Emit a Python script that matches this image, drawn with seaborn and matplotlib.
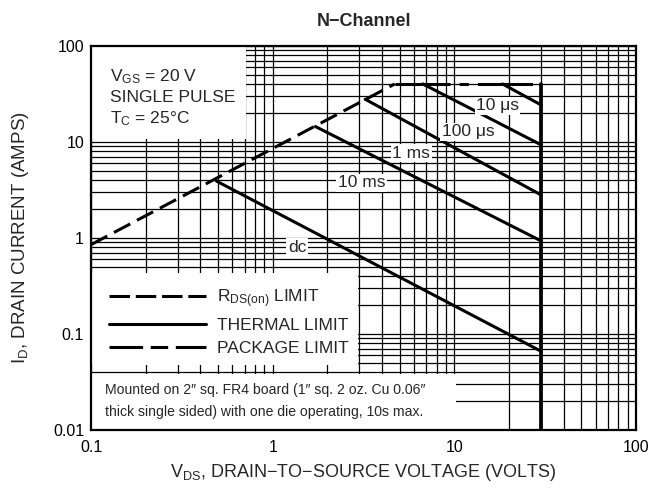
import numpy as np
import pandas as pd
import matplotlib.pyplot as plt
import seaborn as sns
from matplotlib.lines import Line2D
from matplotlib.patches import Rectangle
from matplotlib.ticker import FixedLocator, LogLocator, NullFormatter

# --- data (volts, amps) ---
rds_v = [0.1, 4.7]
rds_i = [0.85, 40.0]
pkg_v = [4.7, 30.0]
pkg_i = [40.0, 40.0]
vmax_v = [30.0, 30.0]
vmax_i = [40.0, 0.01]

seg_names = ["dc", "10 ms", "1 ms", "100 µs", "10 µs"]
seg_v0 = [0.49, 1.72, 3.23, 6.7, 18.4]
seg_i0 = [3.9, 14.4, 27.7, 40.0, 40.0]
seg_v1 = [30.0, 30.0, 30.0, 30.0, 30.0]
seg_i1 = [0.066, 0.93, 2.8, 9.3, 24.2]

label_text = ["10 \u03bcs", "100 \u03bcs", "1 ms", "10 ms", "dc"]
label_v = [17.3, 11.9, 5.8, 3.08, 1.36]
label_i = [23.6, 12.7, 7.6, 3.75, 0.80]

x_ticks = [0.1, 1, 10, 100]
x_ticklabels = ["0.1", "1", "10", "100"]
y_ticks = [0.01, 0.1, 1, 10, 100]
y_ticklabels = ["0.01", "0.1", "1", "10", "100"]

sns.set_theme(style="white")
plt.rcParams["font.family"] = ["Liberation Sans", "DejaVu Sans"]
plt.rcParams["mathtext.default"] = "regular"

fig = plt.figure(figsize=(6.53, 4.93), dpi=100)
ax = fig.add_axes([0.1394, 0.1278, 0.8346, 0.7795])
ax.set_xscale("log")
ax.set_yscale("log")
ax.set_xlim(0.1, 100)
ax.set_ylim(0.01, 100)

# grid, major and minor alike
ax.set_axisbelow(True)
ax.xaxis.set_minor_locator(LogLocator(base=10, subs=np.arange(2, 10)))
ax.yaxis.set_minor_locator(LogLocator(base=10, subs=np.arange(2, 10)))
ax.xaxis.set_minor_formatter(NullFormatter())
ax.yaxis.set_minor_formatter(NullFormatter())
ax.grid(which="both", color="black", linewidth=0.9)
ax.tick_params(which="both", length=0, labelsize=11.5, colors="black")
ax.xaxis.set_major_locator(FixedLocator(x_ticks))
ax.yaxis.set_major_locator(FixedLocator(y_ticks))
ax.set_xticklabels(x_ticklabels)
ax.set_yticklabels(y_ticklabels)
ax.tick_params(axis="x", pad=7)
ax.tick_params(axis="y", pad=5)
for sp in ax.spines.values():
    sp.set_linewidth(1.6)
    sp.set_color("black")

# white boxes hiding the grid
for (x0, y0, w, h) in [(0.0, 0.757, 0.284, 0.243),
                       (0.0, 0.168, 0.49, 0.24),
                       (0.0, 0.0, 0.67, 0.146)]:
    ax.add_patch(Rectangle((x0, y0), w, h, transform=ax.transAxes,
                           facecolor="white", edgecolor="none", zorder=1))

lw = 2.2
# thermal limit lines
df = pd.DataFrame({
    "seg": seg_names * 2,
    "v": seg_v0 + seg_v1,
    "i": seg_i0 + seg_i1,
})
sns.lineplot(data=df, x="v", y="i", units="seg", estimator=None, sort=False,
             color="black", linewidth=lw, ax=ax, zorder=3)
sns.lineplot(x=vmax_v, y=vmax_i, color="black", linewidth=lw + 0.5,
             estimator=None, sort=False, ax=ax, zorder=3)
# RDS(on) limit
sns.lineplot(x=rds_v, y=rds_i, color="black", linewidth=lw,
             linestyle=(0, (6, 2.5)), estimator=None, sort=False, ax=ax, zorder=3)
# package limit
sns.lineplot(x=pkg_v, y=pkg_i, color="black", linewidth=lw,
             linestyle=(0, (18, 3, 3, 3)), estimator=None, sort=False, ax=ax, zorder=3)

for t, xv, yv in zip(label_text, label_v, label_i):
    ax.text(xv, yv, t, ha="center", va="center", fontsize=12.5, zorder=4,
            bbox=dict(facecolor="white", edgecolor="none", pad=1.0))

ax.text(0.035, 0.945, "V$_{GS}$ = 20 V\nSINGLE PULSE\nT$_C$ = 25°C",
        transform=ax.transAxes, ha="left", va="top", fontsize=12.5,
        linespacing=1.35, zorder=4)

handles = [
    Line2D([], [], color="black", lw=lw, linestyle=(0, (6.7, 1.9))),
    Line2D([], [], color="black", lw=lw),
    Line2D([], [], color="black", lw=lw, linestyle=(0, (11, 2.5, 5.7, 2.5))),
]
labels = ["R$_{DS(on)}$ LIMIT", "THERMAL LIMIT", "PACKAGE LIMIT"]
leg = ax.legend(handles, labels, loc="upper left", bbox_to_anchor=(0.02, 0.39),
                frameon=False, fontsize=12.5, handlelength=5.6, handletextpad=0.6,
                labelspacing=0.45, borderaxespad=0)
leg.set_zorder(4)

ax.text(0.025, 0.105, "Mounted on 2\u2033 sq. FR4 board (1\u2033 sq. 2 oz. Cu 0.06\u2033",
        transform=ax.transAxes, ha="left", va="center", fontsize=10.1, zorder=4)
ax.text(0.025, 0.047, "thick single sided) with one die operating, 10s max.",
        transform=ax.transAxes, ha="left", va="center", fontsize=10.1, zorder=4)

ax.set_title("N\u2212Channel", fontsize=13, fontweight="bold", pad=14)
ax.set_xlabel("V$_{DS}$, DRAIN\u2212TO\u2212SOURCE VOLTAGE (VOLTS)", fontsize=13, labelpad=5)
ax.set_ylabel("I$_D$, DRAIN CURRENT (AMPS)", fontsize=13.5, labelpad=16)

fig.savefig("out.png", dpi=100)
